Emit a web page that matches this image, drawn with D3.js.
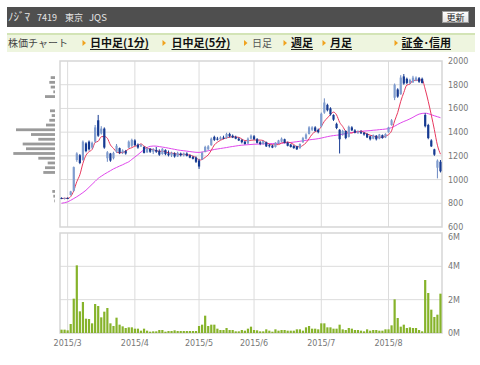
<!DOCTYPE html>
<html>
<head>
<meta charset="utf-8">
<script src="https://cdn.jsdelivr.net/npm/d3@7"></script>
<style>
    body { margin: 0; background: #fff; }
    svg text { font-family: "DejaVu Sans", sans-serif; }
    .jp { font-family: "Noto Sans CJK JP", sans-serif; }
    .axis text { fill: #777; font-size: 8px; font-family: "DejaVu Sans", sans-serif; }
    .axis path { display: none; }
    line.grid { stroke: #dcdcdc; stroke-width: 1; }
</style>
</head>
<body>
<svg id="chart" width="480" height="365"></svg>
<script>
// trading days (2015)
var dates = ["2/26","2/27",
    "3/2","3/3","3/4","3/5","3/6","3/9","3/10","3/11","3/12","3/13","3/16","3/17","3/18","3/19","3/20","3/23","3/24","3/25","3/26","3/27","3/30","3/31",
    "4/1","4/2","4/3","4/6","4/7","4/8","4/9","4/10","4/13","4/14","4/15","4/16","4/17","4/20","4/21","4/22","4/23","4/24","4/27","4/28","4/30",
    "5/1","5/7","5/8","5/11","5/12","5/13","5/14","5/15","5/18","5/19","5/20","5/21","5/22","5/25","5/26","5/27","5/28","5/29",
    "6/1","6/2","6/3","6/4","6/5","6/8","6/9","6/10","6/11","6/12","6/15","6/16","6/17","6/18","6/19","6/22","6/23","6/24","6/25","6/26","6/29","6/30",
    "7/1","7/2","7/3","7/6","7/7","7/8","7/9","7/10","7/13","7/14","7/15","7/16","7/17","7/21","7/22","7/23","7/24","7/27","7/28","7/29","7/30","7/31",
    "8/3","8/4","8/5","8/6","8/7","8/10","8/11","8/12","8/13","8/14","8/17","8/18","8/19","8/20","8/21","8/24","8/25","8/26"];

var open = [845,840,845,870,905,1165,1205,1165,1305,1320,
    1270,1320,1500,1390,1430,1180,1220,1180,1235,1265,
    1230,1240,1270,1285,1330,1295,1280,1275,1230,1260,
    1235,1250,1240,1215,1250,1220,1205,1220,1195,1220,
    1205,1220,1205,1190,1185,1160,1170,1235,1255,1290,
    1360,1345,1340,1355,1350,1385,1370,1360,1345,1335,
    1320,1305,1345,1365,1340,1315,1300,1315,1290,1285,
    1275,1305,1320,1340,1310,1295,1285,1280,1265,1315,
    1345,1385,1420,1440,1420,1450,1565,1630,1600,1545,
    1470,1420,1380,1410,1360,1440,1415,1400,1400,1395,
    1385,1365,1345,1370,1345,1375,1355,1400,1460,1690,
    1760,1720,1870,1850,1815,1820,1835,1855,1850,1545,
    1460,1330,1255,1100,1150];
var high = [850,848,850,905,1110,1230,1215,1330,1315,1330,
    1320,1460,1545,1450,1440,1240,1225,1235,1300,1270,
    1255,1250,1330,1345,1340,1305,1300,1280,1270,1265,
    1265,1275,1255,1265,1255,1245,1235,1230,1235,1228,
    1228,1230,1212,1200,1195,1175,1235,1285,1290,1355,
    1370,1360,1365,1370,1395,1395,1380,1370,1355,1340,
    1325,1355,1380,1375,1350,1325,1330,1320,1300,1295,
    1315,1335,1355,1345,1320,1300,1290,1285,1305,1360,
    1390,1450,1450,1450,1430,1565,1685,1640,1610,1550,
    1480,1425,1420,1415,1455,1450,1425,1415,1415,1400,
    1390,1370,1380,1375,1385,1380,1390,1445,1510,1810,
    1770,1880,1890,1860,1850,1875,1870,1865,1860,1560,
    1470,1340,1260,1170,1165];
var low = [835,832,835,865,900,1150,1130,1160,1230,1245,
    1260,1310,1360,1380,1260,1150,1150,1170,1225,1215,
    1215,1210,1265,1275,1285,1260,1275,1220,1225,1225,
    1215,1225,1200,1210,1205,1195,1190,1185,1190,1195,
    1195,1195,1180,1170,1140,1090,1165,1230,1250,1285,
    1325,1330,1335,1340,1345,1355,1350,1340,1325,1305,
    1295,1300,1340,1335,1305,1290,1295,1275,1270,1265,
    1270,1300,1315,1305,1280,1270,1260,1250,1260,1310,
    1340,1380,1410,1405,1390,1440,1555,1575,1540,1495,
    1425,1220,1370,1340,1355,1410,1390,1385,1385,1370,
    1350,1330,1340,1330,1340,1345,1350,1395,1455,1670,
    1690,1715,1800,1805,1805,1815,1830,1815,1810,1440,
    1340,1275,1200,1010,1060];
var close = [840,845,838,900,1105,1220,1140,1320,1240,1255,
    1310,1440,1370,1430,1270,1230,1160,1225,1285,1225,
    1245,1220,1320,1335,1290,1270,1290,1225,1262,1235,
    1255,1235,1210,1260,1215,1205,1225,1195,1225,1205,
    1220,1200,1185,1175,1150,1110,1225,1275,1280,1345,
    1335,1340,1355,1345,1385,1365,1355,1345,1330,1315,
    1300,1345,1370,1340,1310,1300,1325,1280,1285,1270,
    1310,1330,1345,1310,1285,1275,1265,1255,1300,1350,
    1380,1440,1440,1410,1400,1555,1650,1585,1550,1505,
    1435,1340,1410,1350,1445,1415,1395,1405,1390,1380,
    1355,1340,1375,1340,1380,1350,1385,1440,1500,1800,
    1700,1860,1810,1815,1840,1860,1860,1825,1815,1450,
    1350,1280,1210,1160,1070];
// volume, millions of shares
var volume = [0.2,0.2,0.16,0.54,2.06,4.06,1.3,1.86,0.86,0.84,
    0.58,1.74,1.62,0.94,1.28,1.5,0.58,0.42,0.92,0.5,
    0.4,0.3,0.34,0.34,0.26,0.26,0.14,0.26,0.14,0.08,
    0.1,0.1,0.18,0.18,0.08,0.12,0.12,0.16,0.12,0.12,
    0.12,0.12,0.12,0.12,0.12,0.42,0.5,1.04,0.42,0.5,
    0.5,0.26,0.18,0.18,0.3,0.18,0.18,0.1,0.1,0.18,
    0.14,0.26,0.38,0.18,0.16,0.1,0.1,0.22,0.14,0.08,
    0.22,0.14,0.18,0.18,0.14,0.14,0.14,0.22,0.22,0.14,
    0.34,0.42,0.26,0.26,0.22,0.58,0.58,0.34,0.34,0.26,
    0.26,0.5,0.22,0.18,0.3,0.26,0.18,0.18,0.14,0.1,
    0.22,0.14,0.18,0.18,0.14,0.14,0.22,0.22,0.46,2.02,
    0.9,0.38,0.5,0.3,0.34,0.3,0.3,0.18,0.1,3.18,
    2.4,1.4,0.96,1.1,2.36];
// 5-day moving average
var ma5 = [840,842,841,856,906,982,1041,1137,1205,1235,
    1253,1313,1323,1361,1364,1348,1292,1263,1234,1225,
    1228,1240,1259,1269,1282,1287,1301,1282,1267,1256,
    1253,1242,1239,1239,1235,1225,1223,1220,1213,1211,
    1214,1209,1207,1197,1186,1164,1169,1187,1208,1247,
    1292,1315,1331,1344,1352,1358,1361,1359,1356,1342,
    1329,1327,1332,1334,1333,1333,1329,1311,1300,1292,
    1294,1295,1308,1313,1316,1309,1296,1278,1276,1289,
    1310,1345,1382,1404,1414,1449,1491,1520,1548,1569,
    1545,1483,1448,1408,1396,1392,1403,1402,1410,1397,
    1385,1374,1368,1358,1358,1357,1366,1379,1411,1495,
    1565,1660,1734,1797,1805,1837,1837,1840,1840,1762,
    1660,1544,1421,1290,1214];
// 25-day moving average
var ma25 = [800,805,812,825,840,855,872,890,910,935,
    960,985,1010,1028,1045,1060,1075,1090,1102,1114,
    1125,1138,1150,1170,1190,1210,1232,1252,1270,1280,
    1283,1282,1278,1274,1270,1265,1260,1255,1250,1246,
    1243,1240,1236,1233,1230,1229,1232,1237,1243,1248,
    1254,1258,1262,1266,1270,1275,1279,1283,1287,1290,
    1292,1294,1296,1298,1299,1300,1301,1302,1303,1304,
    1305,1306,1307,1309,1311,1313,1316,1319,1323,1327,
    1331,1335,1338,1341,1345,1350,1356,1362,1367,1371,
    1374,1377,1382,1388,1393,1397,1400,1403,1406,1409,
    1411,1413,1416,1418,1421,1423,1426,1430,1438,1450,
    1465,1478,1490,1500,1512,1525,1540,1552,1558,1560,
    1556,1547,1538,1530,1522];

// volume by price (left side profile)
var profilePrice = [1860,1820,1780,1740,1700,1580,1540,1500,1460,1420,1380,1340,1300,1260,1220,1180,1140,1100,1060,900,860,820];
var profileVolume = [43,57,43,17,100,50,33,57,90,390,240,167,323,290,417,167,73,100,117,27,17,7];

var priceTicks = [600,800,1000,1200,1400,1600,1800,2000];
var volumeTicks = [0,2,4,6];
var monthStarts = ["3/2","4/1","5/1","6/1","7/1","8/3"];
var monthLabels = ["2015/3","2015/4","2015/5","2015/6","2015/7","2015/8"];

var headerParts = ["ﾉｼﾞﾏ","7419","東京","JQS"];
var navTitle = "株価チャート";
var navItems = ["日中足(1分)","日中足(5分)","日足","週足","月足","証金･信用"];
var navIsLink = [true,true,false,true,true,true];

// ---------------- layout ----------------
var P = {left: 60, right: 442, top: 61, bottom: 227};
var V = {top: 233, bottom: 333};
var ProfileRight = 55;

var svg = d3.select("#chart");

// header bar
svg.append("rect").attr("x", 7).attr("y", 7).attr("width", 468).attr("height", 20).attr("fill", "#4f4f4f");
var headerX = [8, 37, 65, 89],
    headerSize = [11, 9, 9, 9.5];
svg.selectAll("text.head").data(headerParts).enter()
    .append("text").attr("class", "head jp")
    .attr("x", (d,i)=>headerX[i]).attr("y", 21)
    .attr("font-size", (d,i)=>headerSize[i]).attr("fill", "#e6e6e6")
    .text(d=>d);

var btnGrad = svg.append("defs").append("linearGradient").attr("id", "btn")
    .attr("x1", 0).attr("y1", 0).attr("x2", 0).attr("y2", 1);
btnGrad.append("stop").attr("offset", "0").attr("stop-color", "#ffffff");
btnGrad.append("stop").attr("offset", "1").attr("stop-color", "#e2e2e2");
svg.append("rect").attr("x", 442.5).attr("y", 11.5).attr("width", 26).attr("height", 11)
    .attr("fill", "url(#btn)").attr("stroke", "#999");
svg.append("text").attr("class", "jp").attr("x", 455.5).attr("y", 20.5)
    .attr("text-anchor", "middle").attr("font-size", 9).attr("fill", "#222").text("更新");

// nav bar
svg.append("rect").attr("x", 7).attr("y", 33).attr("width", 468).attr("height", 19).attr("fill", "#eef5df");
svg.append("rect").attr("x", 7).attr("y", 33).attr("width", 468).attr("height", 2).attr("fill", "#d3e4b6");
svg.append("text").attr("class", "jp").attr("x", 8).attr("y", 46.5)
    .attr("font-size", 10).attr("fill", "#444").text(navTitle);

var navArrowX = [84, 164, 245.5, 285, 324, 396],
    navTextX = [90, 171.5, 252, 291, 330, 401.5];
svg.selectAll("path.arrow").data(navArrowX).enter()
    .append("path").attr("class", "arrow")
    .attr("d", d=>"M" + (d-1.5) + ",40 L" + (d+2) + ",43 L" + (d-1.5) + ",46 Z")
    .attr("fill", "#f0a21e");
navItems.forEach(function(label, i) {
    var t = svg.append("text").attr("class", "jp")
        .attr("x", navTextX[i]).attr("y", 47)
        .attr("font-size", navIsLink[i] ? 11 : 10)
        .attr("font-weight", navIsLink[i] ? "bold" : "normal")
        .attr("fill", navIsLink[i] ? "#111" : "#555")
        .text(label);
    if (navIsLink[i]) {
        var w = t.node().getComputedTextLength();
        svg.append("line").attr("x1", navTextX[i]).attr("x2", navTextX[i] + w)
            .attr("y1", 49.5).attr("y2", 49.5).attr("stroke", "#222").attr("stroke-width", 1);
    }
});

// ---------------- scales ----------------
var x = d3.scaleBand().domain(dates).range([P.left, P.right])
    .paddingInner(0.3).paddingOuter(0.15);
var xc = d => x(d) + x.bandwidth() / 2;
var yP = d3.scaleLinear().domain([600, 2000]).range([P.bottom, P.top]);
var yV = d3.scaleLinear().domain([0, 6]).range([V.bottom, V.top]);
var profX = d3.scaleLinear().domain([0, d3.max(profileVolume)]).range([0, 41.7]);

// grid
var g = svg.append("g");
g.selectAll("line.hp").data(priceTicks.slice(1, -1)).enter()
    .append("line").attr("class", "grid")
    .attr("x1", P.left).attr("x2", P.right)
    .attr("y1", d=>yP(d)).attr("y2", d=>yP(d));
g.selectAll("line.hv").data(volumeTicks.slice(1, -1)).enter()
    .append("line").attr("class", "grid")
    .attr("x1", P.left).attr("x2", P.right)
    .attr("y1", d=>yV(d)).attr("y2", d=>yV(d));
monthStarts.forEach(function(d) {
    g.append("line").attr("class", "grid").attr("x1", xc(d)).attr("x2", xc(d))
        .attr("y1", P.top).attr("y2", P.bottom);
    g.append("line").attr("class", "grid").attr("x1", xc(d)).attr("x2", xc(d))
        .attr("y1", V.top).attr("y2", V.bottom);
});
[[P.top, P.bottom], [V.top, V.bottom]].forEach(function(r) {
    g.append("rect").attr("x", P.left).attr("y", r[0])
        .attr("width", P.right - P.left).attr("height", r[1] - r[0])
        .attr("fill", "none").attr("stroke", "#d6d6d6").attr("stroke-width", 1.5);
});

// volume-by-price profile
svg.selectAll("rect.prof").data(profilePrice).enter()
    .append("rect").attr("class", "prof")
    .attr("x", (d,i)=>ProfileRight - profX(profileVolume[i]))
    .attr("y", d=>yP(d) - 1.4)
    .attr("width", (d,i)=>profX(profileVolume[i]))
    .attr("height", 2.8)
    .attr("fill", "#9a9a9a");

// moving averages
var line = (arr) => d3.line()
    .x((d,i)=>xc(dates[i]))
    .y(d=>yP(d))
    .curve(d3.curveMonotoneX)(arr);
svg.append("path").attr("d", line(ma25)).attr("fill", "none")
    .attr("stroke", "#e048ec").attr("stroke-width", 1);
svg.append("path").attr("d", line(ma5)).attr("fill", "none")
    .attr("stroke", "#e8385e").attr("stroke-width", 1);

// candles
var candles = svg.append("g").selectAll("g").data(dates).enter().append("g");
var upFill = "#809dcf", downFill = "#163a92";
candles.append("line")
    .attr("x1", d=>xc(d)).attr("x2", d=>xc(d))
    .attr("y1", (d,i)=>yP(high[i])).attr("y2", (d,i)=>yP(low[i]))
    .attr("stroke", (d,i)=>close[i] >= open[i] ? "#6b89c2" : downFill)
    .attr("stroke-width", 1);
candles.append("rect")
    .attr("x", d=>xc(d) - 1.1).attr("width", 2.2)
    .attr("y", (d,i)=>yP(Math.max(open[i], close[i])))
    .attr("height", (d,i)=>Math.max(1, Math.abs(yP(open[i]) - yP(close[i]))))
    .attr("fill", (d,i)=>close[i] >= open[i] ? upFill : downFill);

// volume bars
svg.append("g").selectAll("rect").data(dates).enter()
    .append("rect")
    .attr("x", d=>xc(d) - 1.1).attr("width", 2.2)
    .attr("y", (d,i)=>yV(volume[i]))
    .attr("height", (d,i)=>yV(0) - yV(volume[i]))
    .attr("fill", "#86b32a");

// axes
svg.append("g").attr("class", "axis").attr("transform", "translate(" + P.right + ",0)")
    .call(d3.axisRight(yP).tickValues(priceTicks).tickSize(0).tickPadding(6).tickFormat(d3.format("d")));
var vAxis = svg.append("g").attr("class", "axis").attr("transform", "translate(" + P.right + ",0)")
    .call(d3.axisRight(yV).tickValues(volumeTicks).tickSize(0).tickPadding(6).tickFormat(d=>d + "M"));
// top volume label sits just under the price axis' last label
vAxis.selectAll(".tick").filter(d=>d === 6).select("text").attr("dy", "0.75em");
svg.append("g").attr("class", "axis").attr("transform", "translate(0," + V.bottom + ")")
    .call(d3.axisBottom(x).tickValues(monthStarts).tickSize(0).tickPadding(7)
        .tickFormat(d=>monthLabels[monthStarts.indexOf(d)]));
</script>
</body>
</html>
